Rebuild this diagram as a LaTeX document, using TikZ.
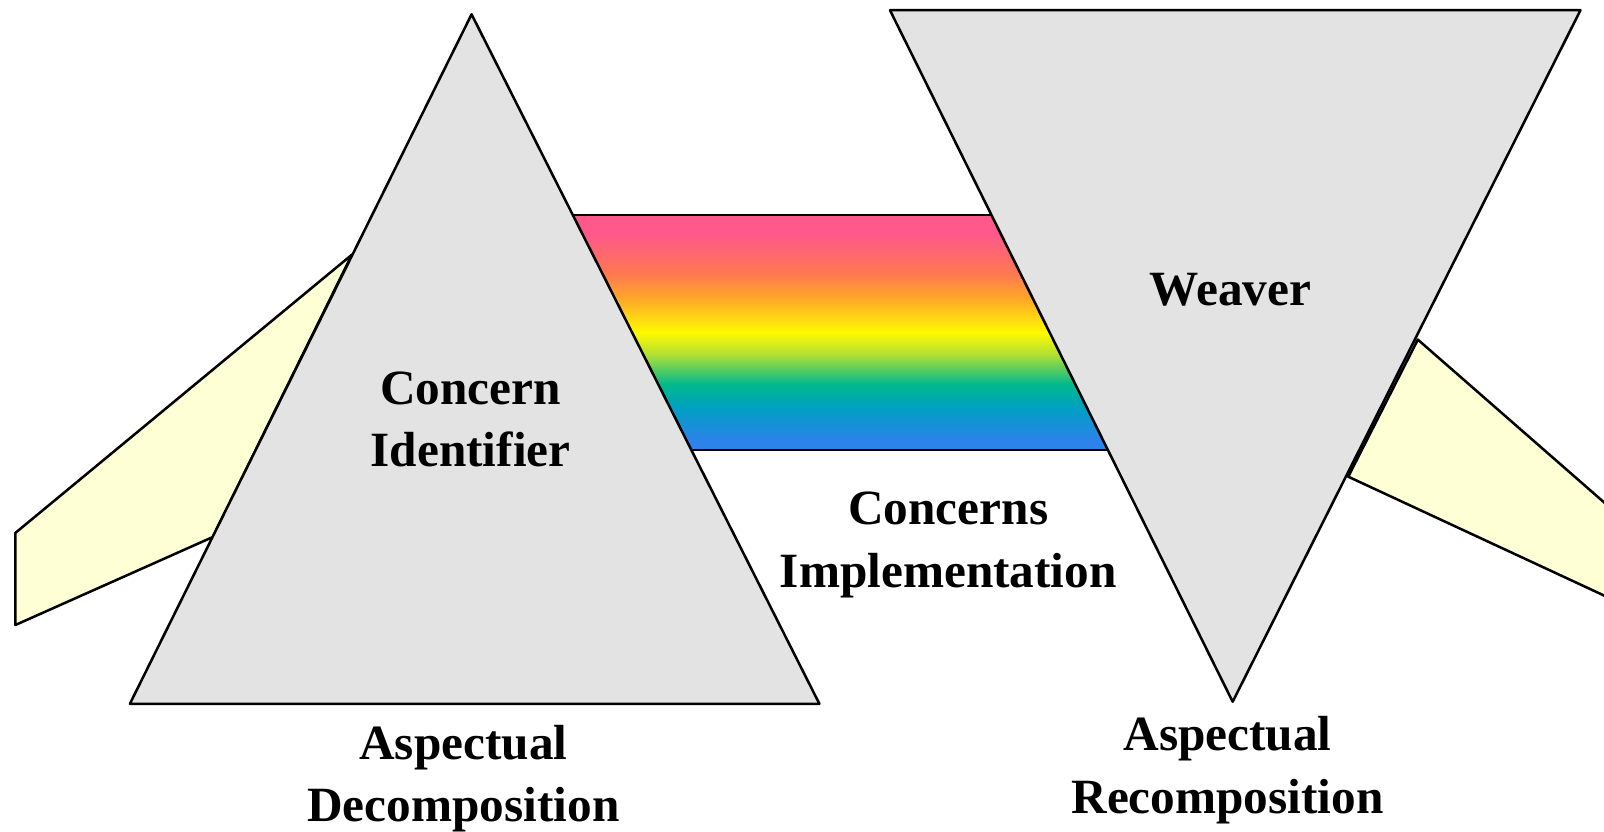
\documentclass[tikz,border=0pt]{standalone}
\usepackage{fontspec}
\setmainfont{Liberation Serif}
\definecolor{prismgray}{HTML}{E3E3E3}
\definecolor{beamyellow}{HTML}{FFFFD6}
\definecolor{bandblue}{RGB}{45,130,235}
\definecolor{bandteal}{RGB}{0,160,195}
\definecolor{bandgreen}{RGB}{0,185,140}
\definecolor{bandlime}{RGB}{180,225,50}
\definecolor{bandyellow}{RGB}{255,250,0}
\definecolor{bandamber}{RGB}{255,170,40}
\definecolor{bandorange}{RGB}{255,120,80}
\definecolor{bandpink}{RGB}{255,88,140}
% the path is fitted to the middle half (25bp to 75bp) of the shading
\pgfdeclareverticalshading{rainbowband}{100bp}{color(0bp)=(bandblue); color(27bp)=(bandblue); color(34bp)=(bandteal); color(39bp)=(bandgreen); color(45.5bp)=(bandlime); color(50bp)=(bandyellow); color(57bp)=(bandamber); color(62.5bp)=(bandorange); color(71bp)=(bandpink); color(100bp)=(bandpink)}
\begin{document}
\begin{tikzpicture}[x=0.01cm, y=-0.01cm,
    prism/.style={draw, fill=prismgray, line width=0.7pt, line join=round},
    beam/.style={draw, fill=beamyellow, line width=0.7pt, line join=round},
    caption/.style={font=\fontsize{13.7}{17.4}\selectfont\bfseries, align=center}]
        \useasboundingbox (0,0) rectangle (1568,813);

        % Corners of the two prisms
        \coordinate (dtop) at (461,14);
        \coordinate (dleft) at (127,688);
        \coordinate (dright) at (801,688);
        \coordinate (rleft) at (870,10);
        \coordinate (rright) at (1545,10);
        \coordinate (rbottom) at (1205,686);

        % Draw the incoming beam
        \draw[beam] (15,521) -- (344,249) -- (208,525) -- (15,611) -- cycle;

        % Draw the outgoing beam
        \begin{scope}
            \clip (0,0) rectangle (1568,813);
            \draw[beam] (1386,332) -- (1600,519) -- (1600,597) -- (1318,466) -- cycle;
        \end{scope}

        % Draw the band of concerns
        \coordinate (bandtl) at (558,210);
        \coordinate (bandtr) at (969,210);
        \coordinate (bandbl) at (672,440);
        \coordinate (bandbr) at (1083,440);
        \shade[shading=rainbowband] (bandtl) -- (bandtr) -- (bandbr) -- (bandbl) -- cycle;
        \draw[line width=0.7pt] (bandtl) -- (bandtr);
        \draw[line width=0.7pt] (bandbl) -- (bandbr);

        % Draw the decomposition prism
        \draw[prism] (dtop) -- (dright) -- (dleft) -- cycle;

        % Draw the recomposition prism
        \draw[prism] (rleft) -- (rright) -- (rbottom) -- cycle;

        % Labels
        \node[caption] (identifier) at (460,410) {Concern\\Identifier};
        \node[caption] (weaver) at (1203,283) {Weaver};
        \node[caption] (implementation) at (927,533) {Concerns\\Implementation};
        \node[caption] (decomposition) at (453,761) {Aspectual\\Decomposition};
        \node[caption] (recomposition) at (1200,753) {Aspectual\\Recomposition};

    \end{tikzpicture}
\end{document}
